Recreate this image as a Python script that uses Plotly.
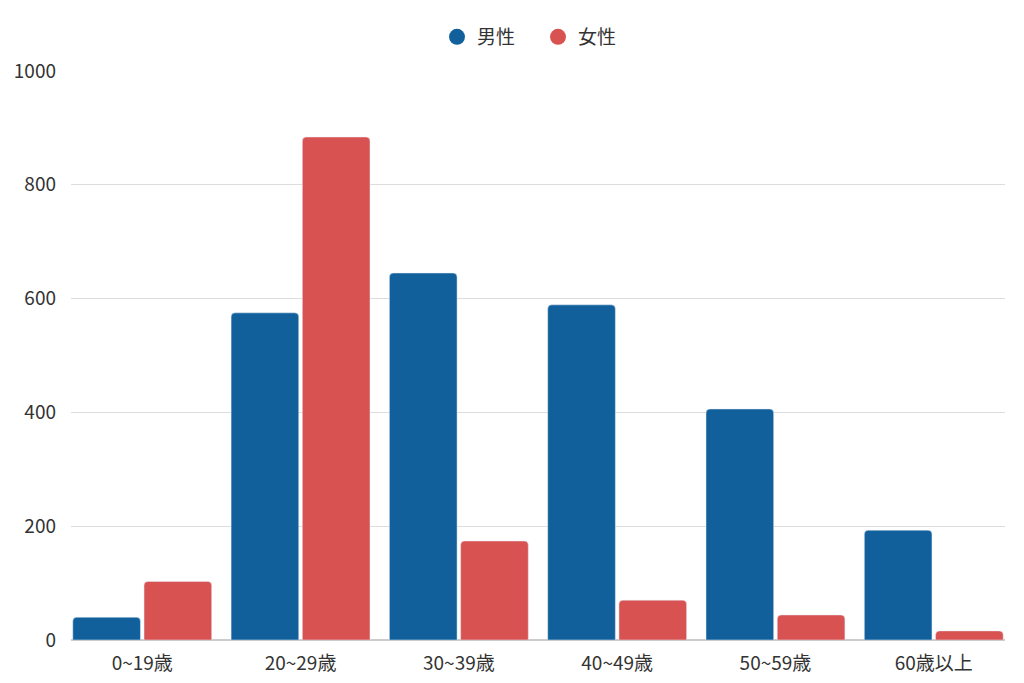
import plotly.graph_objects as go

# age groups and counts
categories = ["0~19歳", "20~29歳", "30~39歳", "40~49歳", "50~59歳", "60歳以上"]
male = [40, 575, 645, 589, 406, 193]
female = [103, 884, 174, 70, 44, 16]

BLUE = "#11609C"
RED = "#D95252"
FONT = "Noto Sans CJK JP"
BARGAP = 0.1

fig = go.Figure()
fig.add_trace(go.Bar(x=categories, y=male, name="男性", marker_color=BLUE,
                     showlegend=False))
fig.add_trace(go.Bar(x=categories, y=female, name="女性", marker_color=RED,
                     showlegend=False))

# round markers for the legend
for name, color in (("男性", BLUE), ("女性", RED)):
    fig.add_trace(go.Scatter(x=[None], y=[None], mode="markers", name=name,
                             marker=dict(color=color, size=21, symbol="circle")))

# the page adds an 8px body margin, so margins are shifted to compensate
fig.update_layout(
    width=1024, height=683,
    margin=dict(l=63, r=27, t=63, b=51),
    plot_bgcolor="white", paper_bgcolor="white",
    font=dict(family=FONT, size=19, color="#333333"),
    barmode="group", bargap=BARGAP, bargroupgap=0.05,
    barcornerradius=4,
    legend=dict(orientation="h", x=0.5, xanchor="center",
                yref="container", y=1 - 29 / 683, yanchor="middle",
                font=dict(size=19), itemsizing="trace", entrywidth=56),
)
# bars run right up to both edges of the plot area
fig.update_xaxes(range=[-0.5 + BARGAP / 2, len(categories) - 0.5 - BARGAP / 2],
                 showgrid=False, showline=True, linecolor="#cccccc",
                 ticks="", ticklabelstandoff=6, tickfont=dict(size=19),
                 automargin=False)
fig.update_yaxes(range=[0, 1000], dtick=200, showgrid=True,
                 gridcolor="#dddddd", zeroline=True, zerolinecolor="#cccccc",
                 ticks="", ticklabelstandoff=14, tickfont=dict(size=19),
                 automargin=False)

fig.write_html("out.html")
